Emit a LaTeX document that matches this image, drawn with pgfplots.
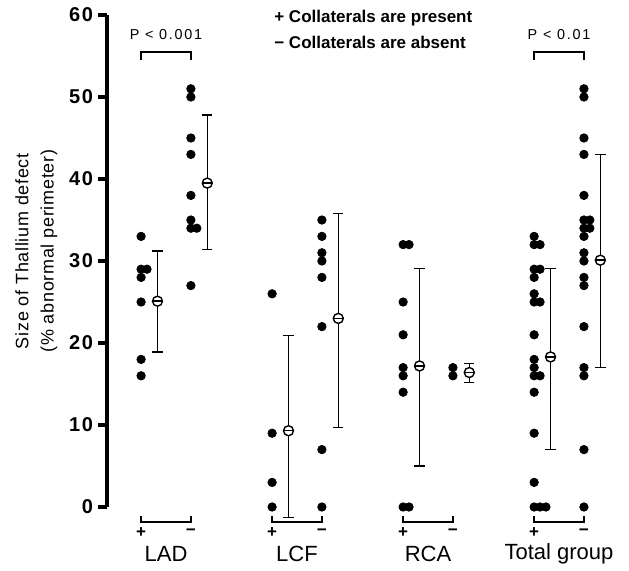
\documentclass[border=0pt]{standalone}
\usepackage{fontspec}
\setmainfont{Liberation Sans}
\usepackage{pgfplots}
\pgfplotsset{compat=1.18}

% open circle with a horizontal bar through it, for the group means
\pgfdeclareplotmark{ominus}{%
  \pgfpathcircle{\pgfpointorigin}{\pgfplotmarksize}%
  \pgfusepathqfillstroke
  \pgfpathmoveto{\pgfqpoint{-\pgfplotmarksize}{0pt}}%
  \pgfpathlineto{\pgfqpoint{\pgfplotmarksize}{0pt}}%
  \pgfusepathqstroke
}

\begin{document}
\begin{tikzpicture}
\begin{axis}[
  scale only axis, width=252.2pt, height=246pt,
  xmin=0.55, xmax=4.4, ymin=0, ymax=60,
  clip=false,
  hide x axis,
  axis y line*=left,
  axis line style={line width=2pt},
  ytick={0,10,...,60},
  tick align=outside,
  major tick length=4.5pt,
  major tick style={line width=1.6pt, black},
  yticklabel style={font=\bfseries\fontsize{10}{11}\selectfont\addfontfeatures{LetterSpace=8}, xshift=1pt},
  /pgf/number format/assume math mode=true,
]
% individual patients (x: group centre -/+ 0.19, small shift for ties)
\addplot[only marks, mark=*, mark size=2.1pt, black] table {
x y
0.81 33
0.81 29
0.855 29
0.81 28
0.81 25
0.81 18
0.81 16
1.19 51
1.19 50
1.19 45
1.19 43
1.19 38
1.19 35
1.19 34
1.235 34
1.19 27
1.81 26
1.81 9
1.81 3
1.81 0
2.19 35
2.19 33
2.19 31
2.19 30
2.19 28
2.19 22
2.19 7
2.19 0
2.81 32
2.855 32
2.81 25
2.81 21
2.81 17
2.81 16
2.81 14
2.81 0
2.855 0
3.19 17
3.19 16
3.81 33
3.81 32
3.855 32
3.81 29
3.855 29
3.81 28
3.81 26
3.81 25
3.855 25
3.81 21
3.81 18
3.81 17
3.81 16
3.855 16
3.81 14
3.81 9
3.81 3
3.81 0
3.855 0
3.90 0
4.19 51
4.19 50
4.19 45
4.19 43
4.19 38
4.19 35
4.235 35
4.19 34
4.235 34
4.19 33
4.19 31
4.19 30
4.19 28
4.19 27
4.19 22
4.19 17
4.19 16
4.19 7
4.19 0
};
% means with SD bars
\addplot[only marks, mark=ominus, mark size=2.5pt,
  mark options={fill=white, draw=black, line width=0.7pt},
  error bars/.cd, y dir=both, y explicit,
  error bar style={line width=0.75pt, black},
  error mark=|,
  error mark options={line width=0.75pt, mark size=2.6pt, black}]
  table[x=x, y=y, y error plus=ep, y error minus=em] {
x y ep em
0.935 25.1 6.1 6.2
1.315 39.5 8.3 8.1
1.935 9.3 11.6 10.6
2.315 23.0 12.8 13.3
2.935 17.2 11.9 12.2
3.315 16.4 1.1 1.2
3.935 18.3 10.8 11.3
4.315 30.1 12.9 13.1
};

% brackets under each group
\draw[line width=1pt] (axis cs:0.81,-1.1) -- (axis cs:0.81,-1.8) -- (axis cs:1.19,-1.8) -- (axis cs:1.19,-1.1);
\draw[line width=1pt] (axis cs:1.81,-1.1) -- (axis cs:1.81,-1.8) -- (axis cs:2.19,-1.8) -- (axis cs:2.19,-1.1);
\draw[line width=1pt] (axis cs:2.81,-1.1) -- (axis cs:2.81,-1.8) -- (axis cs:3.19,-1.8) -- (axis cs:3.19,-1.1);
\draw[line width=1pt] (axis cs:3.81,-1.1) -- (axis cs:3.81,-1.8) -- (axis cs:4.19,-1.8) -- (axis cs:4.19,-1.1);
\node[font=\bfseries\fontsize{8.5}{9}\selectfont] at (axis cs:0.81,-3.1) {+};
\node[font=\bfseries\fontsize{8.5}{9}\selectfont] at (axis cs:1.81,-3.1) {+};
\node[font=\bfseries\fontsize{8.5}{9}\selectfont] at (axis cs:2.81,-3.1) {+};
\node[font=\bfseries\fontsize{8.5}{9}\selectfont] at (axis cs:3.81,-3.1) {+};
\node[font=\bfseries\fontsize{8.5}{9}\selectfont] at (axis cs:1.19,-3.1) {−};
\node[font=\bfseries\fontsize{8.5}{9}\selectfont] at (axis cs:2.19,-3.1) {−};
\node[font=\bfseries\fontsize{8.5}{9}\selectfont] at (axis cs:3.19,-3.1) {−};
\node[font=\bfseries\fontsize{8.5}{9}\selectfont] at (axis cs:4.19,-3.1) {−};
\node[font=\fontsize{11}{12}\selectfont] at (axis cs:1,-5.7) {LAD};
\node[font=\fontsize{11}{12}\selectfont] at (axis cs:2,-5.7) {LCF};
\node[font=\fontsize{11}{12}\selectfont] at (axis cs:3,-5.7) {RCA};
\node[font=\fontsize{11}{12}\selectfont] at (axis cs:4,-5.7) {Total group};

% significance brackets
\draw[line width=0.8pt] (axis cs:0.81,54.5) -- (axis cs:0.81,55.5) -- (axis cs:1.19,55.5) -- (axis cs:1.19,54.5);
\draw[line width=0.8pt] (axis cs:3.81,54.5) -- (axis cs:3.81,55.5) -- (axis cs:4.19,55.5) -- (axis cs:4.19,54.5);
\node[font=\fontsize{7.2}{8}\selectfont\addfontfeatures{LetterSpace=12}] at (axis cs:1,57.6) {P < 0.001};
\node[font=\fontsize{7.2}{8}\selectfont\addfontfeatures{LetterSpace=12}] at (axis cs:4,57.6) {P < 0.01};

% key
\node[anchor=west, font=\bfseries\fontsize{8.5}{9}\selectfont, inner sep=0pt] at (axis cs:1.824,59.6) {+ Collaterals are present};
\node[anchor=west, font=\bfseries\fontsize{8.5}{9}\selectfont, inner sep=0pt] at (axis cs:1.824,56.6) {− Collaterals are absent};

% y label
\node[rotate=90, align=center, font=\fontsize{9}{12.6}\selectfont\addfontfeatures{LetterSpace=4}] at (axis cs:0.01,31.2)
  {Size of Thallium defect\\(\% abnormal perimeter)};

% page extent
\path (axis cs:-0.267,61.83) rectangle (axis cs:4.534,-7.32);
\end{axis}
\end{tikzpicture}
\end{document}
